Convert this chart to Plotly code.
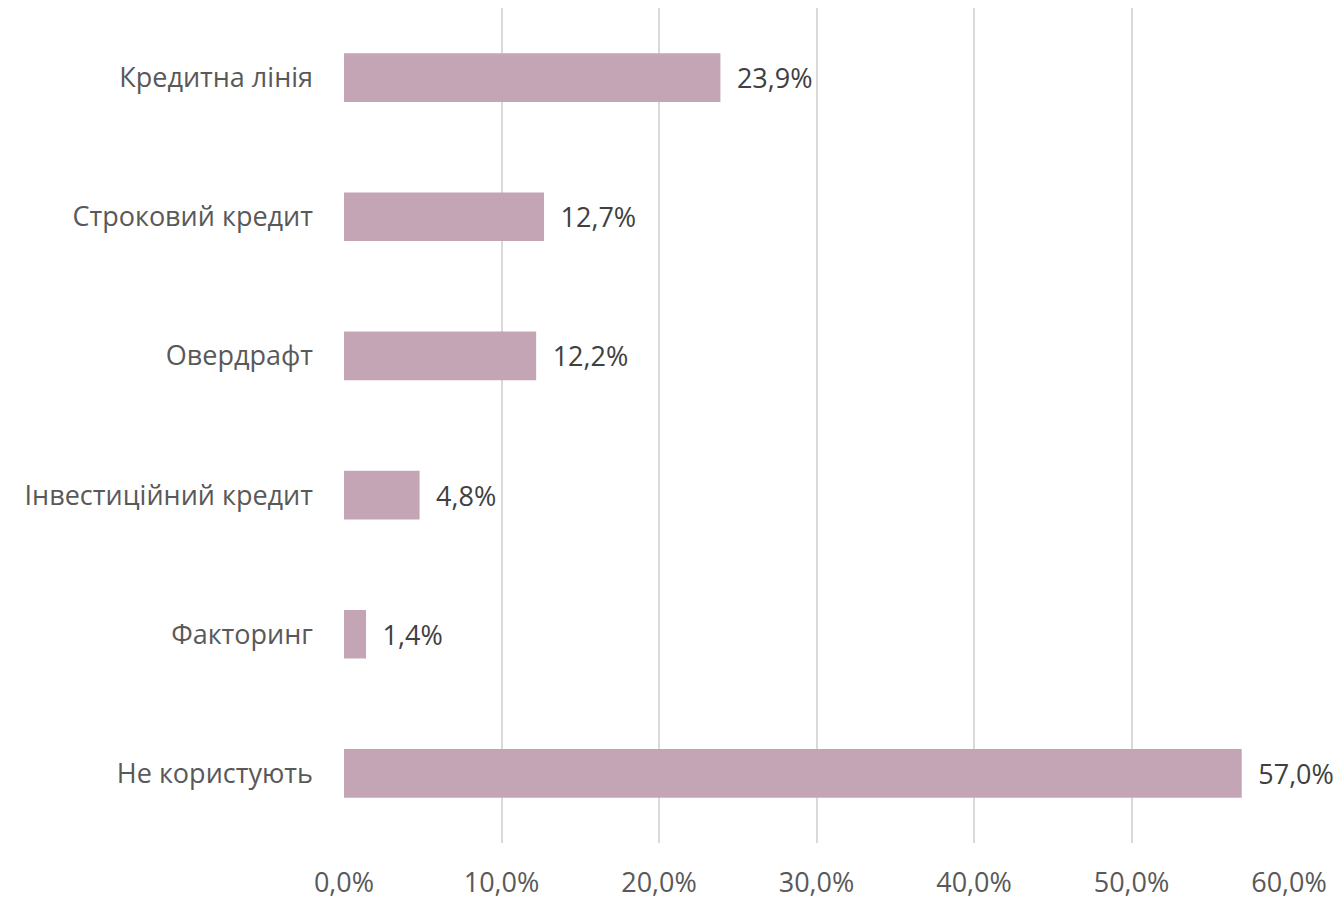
import plotly.graph_objects as go

categories = ["Кредитна лінія", "Строковий кредит", "Овердрафт",
              "Інвестиційний кредит", "Факторинг", "Не користують"]
values = [23.9, 12.7, 12.2, 4.8, 1.4, 57.0]
tick_vals = [0, 10, 20, 30, 40, 50, 60]
tick_text = ["0,0%", "10,0%", "20,0%", "30,0%", "40,0%", "50,0%", "60,0%"]

FONT = "Open Sans"
SIZE = 27

fig = go.Figure(go.Bar(
    x=values, y=categories, orientation="h",
    marker=dict(color="#C4A5B5", line=dict(width=0)),
    width=0.35,
    text=values, texttemplate="\u2002%{x:.1f}%", textposition="outside",
    textfont=dict(family=FONT, size=SIZE, color="#404040"),
    cliponaxis=False,
))

# page body has an 8px margin, so the figure is drawn 8px in and down
fig.update_layout(
    width=1336, height=893,
    margin=dict(l=336, r=55, t=0, b=58, autoexpand=False),
    paper_bgcolor="white", plot_bgcolor="white",
    separators=", ",
    showlegend=False,
    font=dict(family=FONT, size=SIZE, color="#595959"),
)
fig.update_xaxes(
    range=[0, 60], tickvals=tick_vals, ticktext=tick_text,
    showgrid=True, gridcolor="#D9D9D9", gridwidth=1.5,
    zeroline=False, showline=False, ticks="", ticklabelstandoff=21,
    automargin=False,
    tickfont=dict(family=FONT, size=SIZE, color="#595959"),
)
fig.update_yaxes(
    categoryorder="array", categoryarray=categories, autorange="reversed",
    showgrid=False, zeroline=False, showline=False, ticks="",
    ticklabelstandoff=30, automargin=False,
    tickfont=dict(family=FONT, size=SIZE, color="#595959"),
)

fig.write_html("out.html")
